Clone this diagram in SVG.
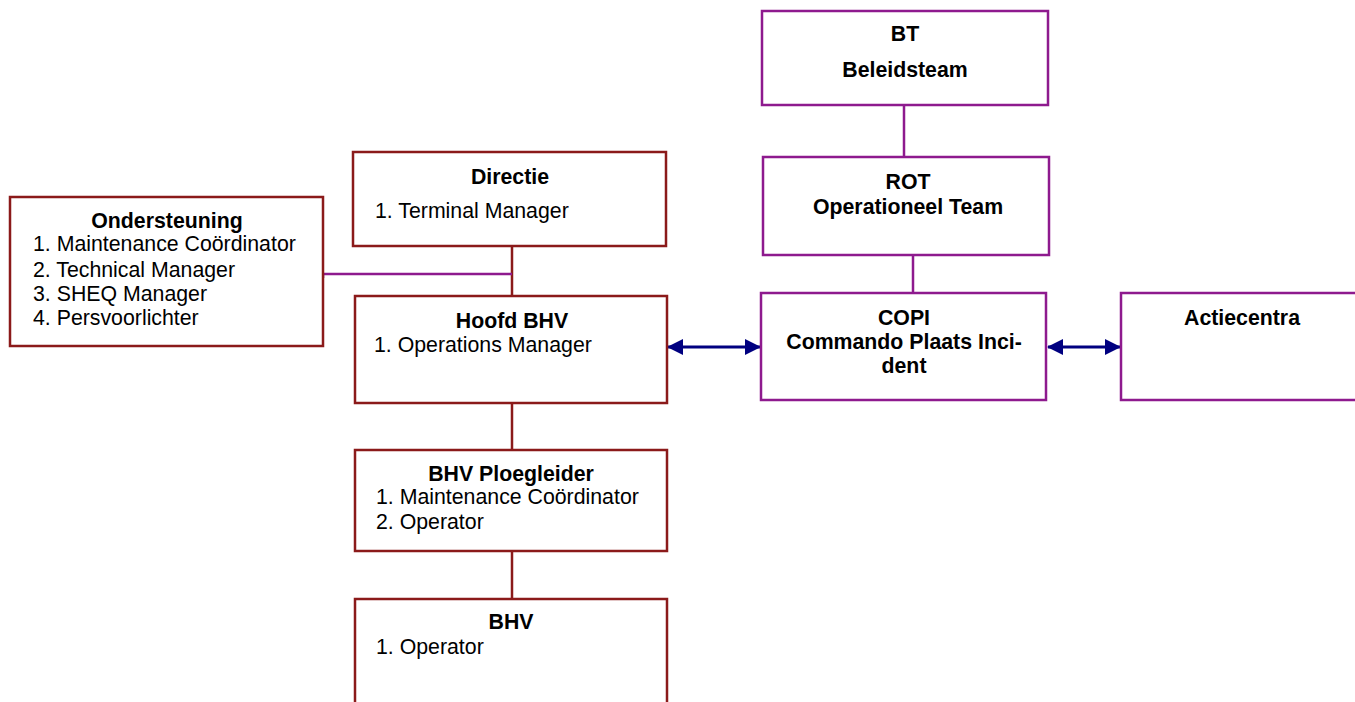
<svg xmlns="http://www.w3.org/2000/svg" width="1355" height="702" viewBox="0 0 1355 702">
<style>
  .red { fill: #ffffff; stroke: #8B1A1A; stroke-width: 2.5; }
  .pur { fill: #ffffff; stroke: #8E1A8E; stroke-width: 2.5; }
  text { font-family: "Liberation Sans", Arial, sans-serif; font-size: 21.3px; fill: #000000; }
  .t { font-weight: bold; text-anchor: middle; }
  .lr { stroke: #8B1A1A; stroke-width: 2.5; fill: none; }
  .lp { stroke: #8E1A8E; stroke-width: 2.5; fill: none; }
  .la { stroke: #000080; stroke-width: 3; fill: none; marker-start: url(#ah); marker-end: url(#ah); }
</style>
<defs>
  <marker id="ah" viewBox="0 0 16 16" refX="15" refY="8" markerWidth="16" markerHeight="16" markerUnits="userSpaceOnUse" orient="auto-start-reverse">
    <path d="M0,0 L16,8 L0,16 Z" fill="#000080"/>
  </marker>
</defs>
<rect width="1355" height="702" fill="#ffffff"/>
<g id="connectors">
  <line class="lr" x1="512" y1="246" x2="512" y2="296"/>
  <polyline class="lp" points="323,278 323,274 512,274"/>
  <line class="lr" x1="512" y1="403" x2="512" y2="450"/>
  <line class="lr" x1="512" y1="551" x2="512" y2="599"/>
  <line class="lp" x1="904" y1="105" x2="904" y2="157"/>
  <line class="lp" x1="913" y1="255" x2="913" y2="293"/>
  <line class="la" x1="668" y1="347" x2="760" y2="347"/>
  <line class="la" x1="1048" y1="347" x2="1120" y2="347"/>
</g>
<g id="ondersteuning">
  <rect class="red" x="10" y="197" width="313" height="149"/>
  <text class="t" x="167" y="228">Ondersteuning</text>
  <text x="33" y="251">1. Maintenance Coördinator</text>
  <text x="33" y="277">2. Technical Manager</text>
  <text x="33" y="301">3. SHEQ Manager</text>
  <text x="33" y="325">4. Persvoorlichter</text>
</g>
<g id="directie">
  <rect class="red" x="353" y="152" width="313" height="94"/>
  <text class="t" x="510" y="184">Directie</text>
  <text x="375" y="218">1. Terminal Manager</text>
</g>
<g id="hoofd-bhv">
  <rect class="red" x="355" y="296" width="312" height="107"/>
  <text class="t" x="512" y="328">Hoofd BHV</text>
  <text x="374" y="352">1. Operations Manager</text>
</g>
<g id="bhv-ploegleider">
  <rect class="red" x="355" y="450" width="312" height="101"/>
  <text class="t" x="511" y="481">BHV Ploegleider</text>
  <text x="376" y="504">1. Maintenance Coördinator</text>
  <text x="376" y="529">2. Operator</text>
</g>
<g id="bhv">
  <rect class="red" x="355" y="599" width="312" height="110"/>
  <text class="t" x="511" y="629">BHV</text>
  <text x="376" y="654">1. Operator</text>
</g>
<g id="bt">
  <rect class="pur" x="762" y="11" width="286" height="94"/>
  <text class="t" x="905" y="41">BT</text>
  <text class="t" x="905" y="77">Beleidsteam</text>
</g>
<g id="rot">
  <rect class="pur" x="763" y="157" width="286" height="98"/>
  <text class="t" x="908" y="189">ROT</text>
  <text class="t" x="908" y="214">Operationeel Team</text>
</g>
<g id="copi">
  <rect class="pur" x="761" y="293" width="285" height="107"/>
  <text class="t" x="904" y="325">COPI</text>
  <text class="t" x="904" y="349">Commando Plaats Inci-</text>
  <text class="t" x="904" y="373">dent</text>
</g>
<g id="actiecentra">
  <rect class="pur" x="1121" y="293" width="245" height="107"/>
  <text class="t" x="1242" y="325">Actiecentra</text>
</g>
</svg>
